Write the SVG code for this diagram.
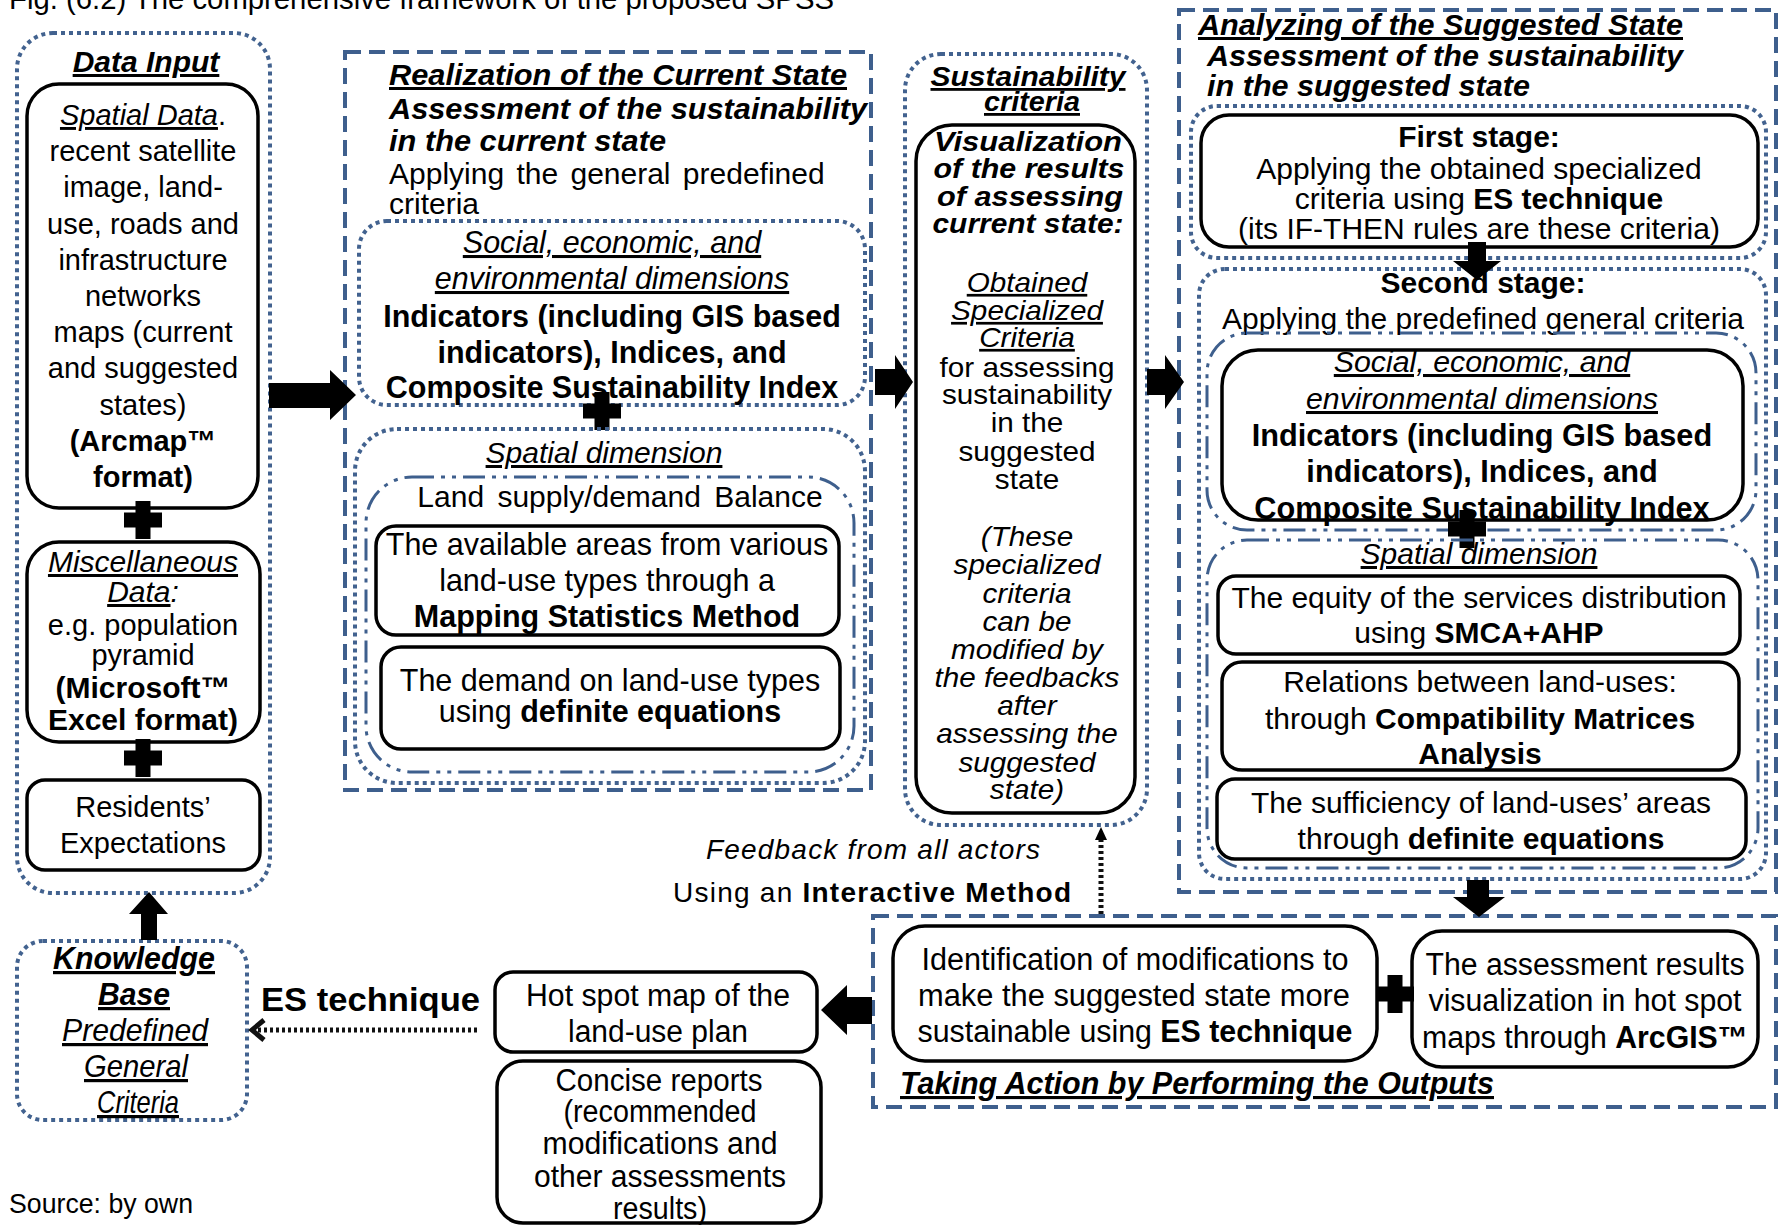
<svg xmlns="http://www.w3.org/2000/svg" width="1780" height="1225" viewBox="0 0 1780 1225">
<style>
  text { font-family: "Liberation Sans", Arial, sans-serif; fill: #000; }
  .c { text-anchor: middle; }
  .b { font-weight: bold; }
  .i { font-style: italic; }
  .u { text-decoration: underline; }
  .s31 { font-size: 31px; }
  .s30 { font-size: 30px; }
  .s29 { font-size: 29px; }
  .s28 { font-size: 28px; }
  .s27 { font-size: 27px; }
  .dot { fill: none; stroke: #42628f; stroke-width: 4; stroke-dasharray: 4 4; }
  .dash { fill: none; stroke: #3e5f8d; stroke-width: 4; stroke-dasharray: 16 8; }
  .dashdot { fill: none; stroke: #3e5f8d; stroke-width: 3; stroke-dasharray: 22 7 4 7 4 7; }
  .box { fill: none; stroke: #000; stroke-width: 3.5; }
  .solid { fill: #000; stroke: none; }
  .dotline { fill: none; stroke: #111; stroke-width: 5; stroke-dasharray: 3 3; }
</style>
<defs>
  <path id="plus" d="M-7.5,-19h15v11.5h11.5v15h-11.5v11.5h-15v-11.5h-11.5v-15h11.5z"/>
</defs>
<rect width="1780" height="1225" fill="#fff"/>

<!-- caption and source -->
<text x="9" y="9" font-size="30" textLength="825" lengthAdjust="spacingAndGlyphs">Fig. (6.2) The comprehensive framework of the proposed SPSS</text>
<text x="9" y="1213" font-size="27" textLength="184" lengthAdjust="spacingAndGlyphs">Source: by own</text>

<!-- Data input column -->
<g id="data-input">
  <rect class="dot" x="17" y="33" width="253" height="860" rx="36"/>
  <text class="c b i u s30" x="146" y="72">Data Input</text>
  <rect class="box" x="27" y="84" width="231" height="424" rx="32"/>
  <g class="c s29">
    <text x="143" y="125"><tspan class="i u">Spatial Data</tspan>.</text>
    <text x="143" y="161">recent satellite</text>
    <text x="143" y="197">image, land-</text>
    <text x="143" y="234">use, roads and</text>
    <text x="143" y="270">infrastructure</text>
    <text x="143" y="306">networks</text>
    <text x="143" y="342">maps (current</text>
    <text x="143" y="378">and suggested</text>
    <text x="143" y="415">states)</text>
    <text class="b" x="143" y="451">(Arcmap™</text>
    <text class="b" x="143" y="487">format)</text>
  </g>
  <use href="#plus" x="143" y="520"/>
  <rect class="box" x="27" y="542" width="233" height="200" rx="32"/>
  <g class="c">
    <text class="i u s30" x="143" y="572">Miscellaneous</text>
    <text class="i s30" x="143" y="602"><tspan class="u">Data</tspan>:</text>
    <text class="s29" x="143" y="635">e.g. population</text>
    <text class="s29" x="143" y="665">pyramid</text>
    <text class="b s30" x="143" y="698">(Microsoft™</text>
    <text class="b s30" x="143" y="730">Excel format)</text>
  </g>
  <use href="#plus" x="143" y="758"/>
  <rect class="box" x="27" y="780" width="233" height="90" rx="18"/>
  <text class="c s29" x="143" y="817">Residents’</text>
  <text class="c s29" x="143" y="853">Expectations</text>
</g>

<!-- Current state -->
<g id="current-state">
  <rect class="dash" x="345" y="52" width="526" height="738"/>
  <text class="b i u s30" x="389" y="85" textLength="458" lengthAdjust="spacingAndGlyphs">Realization of the Current State</text>
  <text class="b i s30" x="389" y="119" textLength="478" lengthAdjust="spacingAndGlyphs">Assessment of the sustainability</text>
  <text class="b i s30" x="389" y="151" textLength="277" lengthAdjust="spacingAndGlyphs">in the current state</text>
  <text class="s30" x="389" y="184" word-spacing="4">Applying the general predefined</text>
  <text class="s30" x="389" y="214">criteria</text>

  <rect class="dot" x="359" y="221" width="506" height="184" rx="28"/>
  <g class="c">
    <text class="i u" font-size="30.5" x="612" y="253">Social, economic, and</text>
    <text class="i u" font-size="30.5" x="612" y="289">environmental dimensions</text>
    <text class="b" font-size="30.5" x="612" y="327">Indicators (including GIS based</text>
    <text class="b" font-size="30.5" x="612" y="363">indicators), Indices, and</text>
    <text class="b" font-size="30.5" x="612" y="398">Composite Sustainability Index</text>
  </g>
  <use href="#plus" x="602" y="411"/>

  <rect class="dot" x="355" y="429" width="510" height="354" rx="42"/>
  <text class="c i u s30" x="604" y="463">Spatial dimension</text>
  <rect class="dashdot" x="366" y="477" width="488" height="295" rx="46"/>
  <text class="c s30" x="620" y="507" word-spacing="5">Land supply/demand Balance</text>
  <rect class="box" x="376" y="526" width="463" height="109" rx="20"/>
  <g class="c" font-size="30.5">
    <text x="607" y="555">The available areas from various</text>
    <text x="607" y="591">land-use types  through a</text>
    <text class="b" x="607" y="627">Mapping Statistics Method</text>
  </g>
  <rect class="box" x="381" y="647" width="459" height="102" rx="20"/>
  <g class="c" font-size="30.5">
    <text x="610" y="691">The demand on land-use types</text>
    <text x="610" y="722">using  <tspan class="b">definite equations</tspan></text>
  </g>
</g>

<!-- Sustainability criteria -->
<g id="sustainability-criteria">
  <rect class="dot" x="905" y="54" width="242" height="771" rx="36"/>
  <text class="c b i u s28" x="1028" y="86" textLength="195" lengthAdjust="spacingAndGlyphs">Sustainability</text>
  <text class="c b i u s28" x="1032" y="111" textLength="96" lengthAdjust="spacingAndGlyphs">criteria</text>
  <rect class="box" x="916" y="125" width="219" height="688" rx="36"/>
  <g class="c">
    <text class="b i s28" x="1028" y="151" textLength="188" lengthAdjust="spacingAndGlyphs">Visualization</text>
    <text class="b i s28" x="1029" y="178" textLength="191" lengthAdjust="spacingAndGlyphs">of the results</text>
    <text class="b i s28" x="1030" y="206" textLength="186" lengthAdjust="spacingAndGlyphs">of assessing</text>
    <text class="b i s28" x="1028" y="233" textLength="191" lengthAdjust="spacingAndGlyphs">current state:</text>
  </g>
  <!-- body text is set slightly wide, scaled about the column centre -->
  <g class="c" transform="translate(1027,0) scale(1.1,1) translate(-1027,0)">
    <text class="i u s27" x="1027" y="292">Obtained</text>
    <text class="i u s27" x="1027" y="320">Specialized</text>
    <text class="i u s27" x="1027" y="347">Criteria</text>
    <text class="s27" x="1027" y="377">for assessing</text>
    <text class="s27" x="1027" y="404">sustainability</text>
    <text class="s27" x="1027" y="432">in the</text>
    <text class="s27" x="1027" y="461">suggested</text>
    <text class="s27" x="1027" y="489">state</text>
    <text class="i s27" x="1027" y="546">(These</text>
    <text class="i s27" x="1027" y="574">specialized</text>
    <text class="i s27" x="1027" y="603">criteria</text>
    <text class="i s27" x="1027" y="631">can be</text>
    <text class="i s27" x="1027" y="659">modified by</text>
    <text class="i s27" x="1027" y="687">the feedbacks</text>
    <text class="i s27" x="1027" y="715">after</text>
    <text class="i s27" x="1027" y="743">assessing the</text>
    <text class="i s27" x="1027" y="772">suggested</text>
    <text class="i s27" x="1027" y="799">state)</text>
  </g>
</g>

<!-- Suggested state -->
<g id="suggested-state">
  <rect class="dash" x="1179" y="10" width="597" height="882"/>
  <text class="b i u s30" x="1198" y="35" textLength="485" lengthAdjust="spacingAndGlyphs">Analyzing of the Suggested State</text>
  <text class="b i s30" x="1207" y="66" textLength="476" lengthAdjust="spacingAndGlyphs">Assessment of the sustainability</text>
  <text class="b i s30" x="1207" y="96" textLength="323" lengthAdjust="spacingAndGlyphs">in the suggested state</text>

  <g id="first-stage">
    <rect class="dot" x="1191" y="106" width="575" height="152" rx="26"/>
    <rect class="box" x="1201" y="115" width="557" height="132" rx="28"/>
    <g class="c s30">
      <text class="b" x="1479" y="147">First stage:</text>
      <text x="1479" y="179">Applying the obtained specialized</text>
      <text x="1479" y="209">criteria using <tspan class="b">ES technique</tspan></text>
      <text x="1479" y="239">(its IF-THEN rules are these criteria)</text>
    </g>
  </g>

  <g id="second-stage">
    <rect class="dot" x="1199" y="269" width="567" height="610" rx="26"/>
    <text class="c b s30" x="1483" y="293">Second stage:</text>
    <text class="c s30" x="1483" y="329">Applying the predefined general criteria</text>
    <rect class="dashdot" x="1207" y="333" width="549" height="197" rx="40"/>
    <rect class="box" x="1222" y="350" width="521" height="170" rx="36"/>
    <g class="c">
      <text class="i u" font-size="30.3" x="1482" y="372">Social, economic, and</text>
      <text class="i u" font-size="30.3" x="1482" y="409">environmental dimensions</text>
      <text class="b" font-size="30.7" x="1482" y="446">Indicators (including GIS based</text>
      <text class="b" font-size="30.7" x="1482" y="482">indicators), Indices, and</text>
      <text class="b" font-size="30.7" x="1482" y="519">Composite Sustainability Index</text>
    </g>
    <use href="#plus" x="1467" y="529"/>
    <rect class="dashdot" x="1207" y="540" width="551" height="328" rx="40"/>
    <text class="c i u s30" x="1479" y="564">Spatial dimension</text>
    <rect class="box" x="1218" y="576" width="522" height="78" rx="18"/>
    <text class="c s30" x="1479" y="608">The equity of the services distribution</text>
    <text class="c s30" x="1479" y="643">using <tspan class="b">SMCA+AHP</tspan></text>
    <rect class="box" x="1222" y="662" width="517" height="108" rx="20"/>
    <text class="c s30" x="1480" y="692">Relations between land-uses:</text>
    <text class="c s30" x="1480" y="729">through <tspan class="b">Compatibility Matrices</tspan></text>
    <text class="c b s30" x="1480" y="764">Analysis</text>
    <rect class="box" x="1217" y="779" width="529" height="80" rx="18"/>
    <text class="c s30" x="1481" y="813">The sufficiency of land-uses’ areas</text>
    <text class="c s30" x="1481" y="849">through <tspan class="b">definite equations</tspan></text>
  </g>
</g>

<!-- Outputs -->
<g id="taking-action">
  <rect class="dash" x="873" y="916" width="903" height="191"/>
  <rect class="box" x="893" y="926" width="484" height="135" rx="32"/>
  <g font-size="31" text-anchor="middle">
    <text x="1135" y="970" textLength="427" lengthAdjust="spacingAndGlyphs">Identification of modifications to</text>
    <text x="1134" y="1006" textLength="432" lengthAdjust="spacingAndGlyphs">make the suggested state more</text>
    <text x="1135" y="1042" textLength="435" lengthAdjust="spacingAndGlyphs">sustainable using <tspan class="b">ES technique</tspan></text>
  </g>
  <use href="#plus" x="1395" y="994"/>
  <rect class="box" x="1412" y="931" width="346" height="136" rx="30"/>
  <g font-size="31" text-anchor="middle">
    <text x="1585" y="975" textLength="319" lengthAdjust="spacingAndGlyphs">The assessment results</text>
    <text x="1585" y="1011" textLength="313" lengthAdjust="spacingAndGlyphs">visualization in hot spot</text>
    <text x="1585" y="1048" textLength="326" lengthAdjust="spacingAndGlyphs">maps through <tspan class="b">ArcGIS™</tspan></text>
  </g>
  <text class="b i u" x="900" y="1094" font-size="31" textLength="594" lengthAdjust="spacingAndGlyphs">Taking Action by Performing the Outputs</text>
</g>

<g id="hot-spot-map">
  <rect class="box" x="495" y="972" width="322" height="80" rx="18"/>
  <g font-size="31" text-anchor="middle">
    <text x="658" y="1006" textLength="264" lengthAdjust="spacingAndGlyphs">Hot spot map of the</text>
    <text x="658" y="1042" textLength="180" lengthAdjust="spacingAndGlyphs">land-use plan</text>
  </g>
</g>

<g id="concise-reports">
  <rect class="box" x="497" y="1061" width="324" height="162" rx="26"/>
  <g font-size="31" text-anchor="middle">
    <text x="659" y="1091" textLength="207" lengthAdjust="spacingAndGlyphs">Concise reports</text>
    <text x="660" y="1122" textLength="193" lengthAdjust="spacingAndGlyphs">(recommended</text>
    <text x="660" y="1154" textLength="235" lengthAdjust="spacingAndGlyphs">modifications and</text>
    <text x="660" y="1187" textLength="252" lengthAdjust="spacingAndGlyphs">other assessments</text>
    <text x="660" y="1219" textLength="94" lengthAdjust="spacingAndGlyphs">results)</text>
  </g>
</g>

<g id="knowledge-base">
  <rect class="dot" x="17" y="941" width="230" height="179" rx="26"/>
  <g font-size="32" text-anchor="middle">
    <text class="b i u" x="134" y="969" textLength="162" lengthAdjust="spacingAndGlyphs">Knowledge</text>
    <text class="b i u" x="134" y="1005" textLength="72" lengthAdjust="spacingAndGlyphs">Base</text>
    <text class="i u" x="135" y="1041" textLength="146" lengthAdjust="spacingAndGlyphs">Predefined</text>
    <text class="i u" x="136" y="1077" textLength="104" lengthAdjust="spacingAndGlyphs">General</text>
    <text class="i u" x="138" y="1113" textLength="82" lengthAdjust="spacingAndGlyphs">Criteria</text>
  </g>
</g>

<!-- Connectors -->
<g id="connectors">
  <!-- data input to current state -->
  <polygon class="solid" points="269,383 330,383 330,370 356,395 330,420 330,408 269,408"/>
  <!-- current state to criteria -->
  <polygon class="solid" points="875,369 895,369 895,355 913,382 895,409 895,395 875,395"/>
  <!-- criteria to suggested state -->
  <polygon class="solid" points="1147,369 1165,369 1165,355 1184,382 1165,409 1165,395 1147,395"/>
  <!-- first stage to second stage -->
  <polygon class="solid" points="1468,242 1486,242 1486,261 1501,261 1477,280 1453,261 1468,261"/>
  <!-- suggested state to outputs -->
  <polygon class="solid" points="1467,880 1489,880 1489,897 1505,897 1479,917 1453,897 1467,897"/>
  <!-- outputs to hot spot map -->
  <polygon class="solid" points="872,997 847,997 847,985 821,1010 847,1035 847,1024 872,1024"/>
  <!-- knowledge base to data input -->
  <polygon class="solid" points="141,940 157,940 157,914 168,914 149,892 129,914 141,914"/>
  <!-- ES technique feedback to knowledge base -->
  <line class="dotline" x1="477" y1="1030" x2="256" y2="1030"/>
  <polyline points="264,1020 252,1030 264,1040" fill="none" stroke="#111" stroke-width="5"/>
  <text class="b" x="261" y="1011" font-size="34" textLength="219" lengthAdjust="spacingAndGlyphs">ES technique</text>
  <!-- interactive feedback to criteria -->
  <line class="dotline" x1="1101" y1="914" x2="1101" y2="838"/>
  <polygon class="solid" points="1095,840 1101,827 1107,840"/>
  <text class="i s28" x="873" y="859" text-anchor="middle" textLength="334" lengthAdjust="spacing">Feedback from all actors</text>
  <text class="s28" x="673" y="902" textLength="398" lengthAdjust="spacing">Using an <tspan class="b">Interactive Method</tspan></text>
</g>
</svg>
